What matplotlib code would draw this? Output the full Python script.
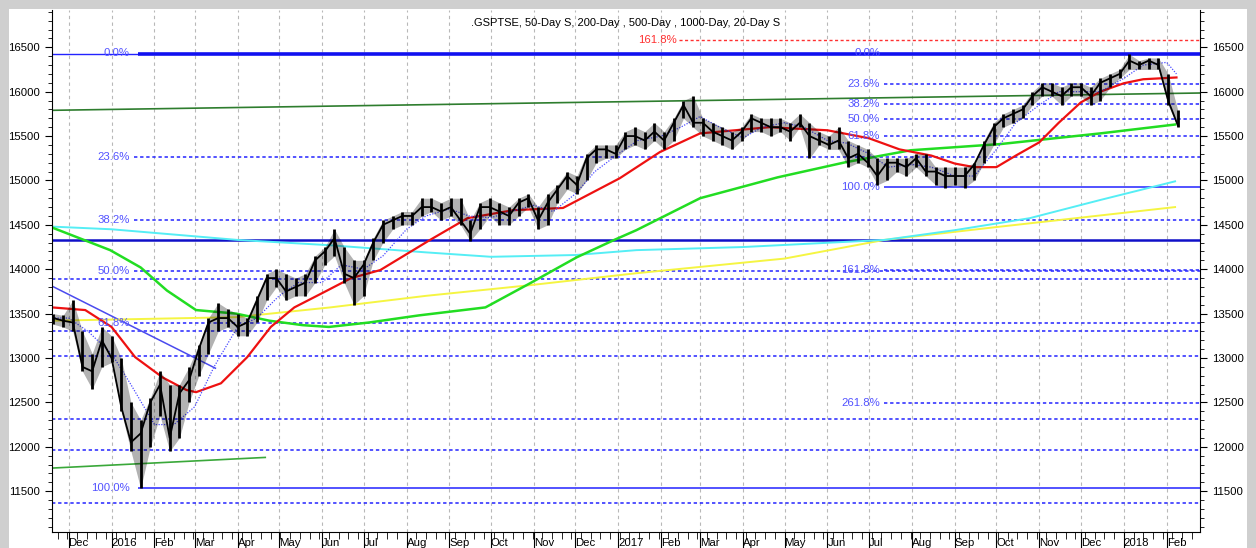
import numpy as np
import pandas as pd
import matplotlib
matplotlib.use("Agg")
import matplotlib.pyplot as plt
import matplotlib.dates as mdates
from matplotlib.patches import Rectangle

plt.rcParams['font.family'] = ['Liberation Sans', 'DejaVu Sans']

# weekly price bars (date, close, high, low)
wk_dates = pd.date_range("2015-11-20", "2018-02-09", freq="W-FRI")
wk_close = [13450, 13420, 13400, 12900, 12850, 13200, 13000, 12450, 12050, 12150,
            12500, 12700, 12100, 12600, 12750, 13100, 13400, 13450, 13450, 13350,
            13400, 13650, 13900, 13900, 13750, 13800, 13850, 14100, 14200, 14350,
            13950, 13900, 14050, 14300, 14500, 14550, 14600, 14600, 14700, 14700,
            14650, 14700, 14550, 14400, 14700, 14700, 14650, 14600, 14750, 14800,
            14550, 14750, 14900, 15050, 14950, 15250, 15350, 15350, 15300, 15500,
            15500, 15450, 15550, 15450, 15650, 15850, 15650, 15650, 15550, 15500,
            15450, 15550, 15700, 15650, 15600, 15600, 15550, 15650, 15500, 15450,
            15400, 15450, 15250, 15300, 15200, 15050, 15200, 15200, 15150, 15250,
            15100, 15100, 15050, 15050, 15050, 15180, 15400, 15600, 15700, 15750,
            15800, 15950, 16050, 16000, 15950, 16050, 16050, 15950, 16100, 16150,
            16200, 16350, 16300, 16350, 16300, 15900, 15620]
wk_high = [13500, 13480, 13650, 13300, 13050, 13350, 13250, 13000, 12500, 12300,
           12550, 12850, 12700, 12700, 12900, 13150, 13450, 13620, 13550, 13500,
           13450, 13700, 13950, 14000, 13950, 13900, 13950, 14150, 14250, 14450,
           14250, 14100, 14100, 14350, 14550, 14600, 14650, 14650, 14800, 14800,
           14750, 14800, 14800, 14550, 14750, 14800, 14750, 14700, 14800, 14850,
           14700, 14850, 14950, 15100, 15050, 15300, 15400, 15400, 15400, 15550,
           15600, 15550, 15650, 15550, 15700, 15900, 15950, 15700, 15650, 15600,
           15550, 15600, 15750, 15700, 15700, 15700, 15650, 15750, 15650, 15550,
           15500, 15600, 15450, 15400, 15350, 15250, 15250, 15250, 15250, 15300,
           15300, 15150, 15150, 15150, 15150, 15200, 15450, 15650, 15750, 15800,
           15850, 16000, 16100, 16100, 16050, 16100, 16100, 16050, 16150, 16200,
           16250, 16421, 16350, 16380, 16380, 16200, 15790]
wk_low = [13380, 13350, 13300, 12850, 12650, 12900, 12950, 12400, 11950, 11531,
          12000, 12350, 11950, 12100, 12500, 12800, 13050, 13300, 13350, 13250,
          13250, 13400, 13650, 13800, 13650, 13700, 13700, 13850, 14050, 14150,
          13850, 13600, 13700, 14100, 14300, 14450, 14500, 14500, 14600, 14650,
          14550, 14600, 14500, 14320, 14450, 14600, 14500, 14500, 14600, 14700,
          14450, 14500, 14750, 14900, 14850, 15000, 15200, 15250, 15250, 15350,
          15400, 15350, 15450, 15350, 15450, 15700, 15600, 15500, 15450, 15400,
          15350, 15450, 15550, 15550, 15500, 15550, 15450, 15600, 15250, 15400,
          15350, 15350, 15150, 15200, 15150, 14950, 15000, 15100, 15050, 15150,
          15050, 14950, 14920, 14950, 14920, 15000, 15200, 15400, 15600, 15650,
          15700, 15850, 15950, 15950, 15850, 15950, 15950, 15850, 15900, 16050,
          16150, 16250, 16250, 16250, 16250, 15850, 15600]

# moving averages
ma50_dates = ["2015-11-19", "2015-12-13", "2016-01-01", "2016-01-18", "2016-02-07",
              "2016-02-24", "2016-03-02", "2016-03-20", "2016-04-08", "2016-04-25",
              "2016-05-12", "2016-06-01", "2016-06-22", "2016-07-13", "2016-08-18",
              "2016-09-14", "2016-10-17", "2016-11-22", "2017-01-02", "2017-01-31",
              "2017-03-01", "2017-04-20", "2017-06-01", "2017-07-01", "2017-07-23",
              "2017-08-15", "2017-09-01", "2017-09-15", "2017-10-01", "2017-10-15",
              "2017-11-01", "2017-11-15", "2017-12-01", "2017-12-15", "2018-01-01",
              "2018-01-15", "2018-02-08"]
ma50_vals = [13570, 13540, 13350, 13010, 12780, 12640, 12615, 12715, 13010, 13350,
             13570, 13730, 13900, 13990, 14330, 14575, 14665, 14690, 15025, 15320,
             15530, 15600, 15565, 15475, 15350, 15280, 15190, 15150, 15150, 15280,
             15430, 15650, 15880, 16000, 16095, 16140, 16160]

ma200_dates = ["2015-11-19", "2015-12-31", "2016-01-22", "2016-02-10", "2016-03-02",
               "2016-03-31", "2016-04-24", "2016-05-18", "2016-06-06", "2016-07-05",
               "2016-08-10", "2016-09-27", "2016-10-29", "2016-12-02", "2016-12-29",
               "2017-01-14", "2017-03-01", "2017-04-26", "2017-06-14", "2017-07-31",
               "2017-10-04", "2017-12-15", "2018-02-07"]
ma200_vals = [14470, 14215, 14020, 13760, 13540, 13500, 13420, 13370, 13350, 13400,
              13480, 13570, 13840, 14135, 14330, 14440, 14800, 15035, 15205, 15340,
              15410, 15530, 15630]

ma500_dates = ["2015-11-19", "2016-01-01", "2016-04-01", "2016-06-07", "2016-08-15",
               "2016-10-01", "2016-12-01", "2017-01-14", "2017-04-01", "2017-07-12",
               "2017-09-01", "2017-10-25", "2017-12-15", "2018-02-07"]
ma500_vals = [14480, 14450, 14330, 14270, 14190, 14140, 14160, 14215, 14250, 14330,
              14440, 14575, 14780, 14990]

ma1000_dates = ["2015-11-19", "2016-03-31", "2016-06-07", "2016-08-15", "2016-10-29",
                "2017-01-14", "2017-05-01", "2017-07-12", "2017-10-01", "2018-02-07"]
ma1000_vals = [13420, 13460, 13570, 13700, 13820, 13955, 14120, 14330, 14475, 14700]

ma20_dates = ["2015-11-19", "2015-12-01", "2015-12-15", "2016-01-01", "2016-01-15",
              "2016-02-01", "2016-02-15", "2016-03-01", "2016-03-15", "2016-04-01",
              "2016-04-15", "2016-05-01", "2016-05-15", "2016-06-01", "2016-06-15",
              "2016-07-01", "2016-07-15", "2016-08-01", "2016-08-15", "2016-09-01",
              "2016-09-15", "2016-10-01", "2016-10-15", "2016-11-01", "2016-11-15",
              "2016-12-01", "2016-12-15", "2017-01-01", "2017-01-15", "2017-02-01",
              "2017-02-15", "2017-03-01", "2017-03-15", "2017-04-01", "2017-04-15",
              "2017-05-01", "2017-05-15", "2017-06-01", "2017-06-15", "2017-07-01",
              "2017-07-15", "2017-08-01", "2017-08-15", "2017-09-01", "2017-09-15",
              "2017-10-01", "2017-10-15", "2017-11-01", "2017-11-15", "2017-12-01",
              "2017-12-15", "2018-01-01", "2018-01-15", "2018-02-01", "2018-02-08"]
ma20_vals = [13450, 13450, 13300, 13050, 12700, 12250, 12250, 12450, 12900, 13350,
             13450, 13700, 13850, 13850, 14050, 14000, 14150, 14450, 14600, 14680,
             14600, 14580, 14650, 14720, 14650, 14850, 15100, 15300, 15450, 15500,
             15600, 15720, 15600, 15480, 15600, 15650, 15600, 15450, 15420, 15300,
             15150, 15180, 15150, 15050, 15050, 15350, 15650, 15850, 16000, 16000,
             16000, 16150, 16300, 16330, 16200]

# fibonacci / support levels
fib1_labels = ["23.6%", "38.2%", "50.0%", "61.8%"]
fib1_levels = [15267, 14553, 13985, 13399]
fib1_top, fib1_low = 16430, 11531
fib2_labels = ["23.6%", "38.2%", "50.0%", "61.8%", "161.8%", "261.8%"]
fib2_levels = [16090, 15860, 15690, 15505, 13992, 12491]
fib2_low = 14925
ext_level = 16580
other_levels = [13890, 13305, 13020, 12315, 11965, 11365]
support_level = 14330

d = mdates.datestr2num
x_left, x_right = d("2015-11-19"), d("2018-02-25")

fig = plt.figure(figsize=(12.56, 5.48), dpi=100, facecolor="#cfcfcf")
fig.patches.append(Rectangle((9 / 1256, 0), 1238 / 1256, 1 - 9 / 548,
                             transform=fig.transFigure, facecolor="white",
                             edgecolor="none", zorder=-5))
ax = fig.add_axes([52 / 1256, 16 / 548, 1148 / 1256, 1 - 16 / 548 - 10 / 548])
ax.set_zorder(2)
ax.set_facecolor("white")
ax.set_xlim(x_left, x_right)
ax.set_ylim(11040, 16920)

blue = "#2323ff"
lblue = "#5252ff"
dash = (0, (2.2, 1.8))

# horizontal levels
ax.hlines(fib1_levels, d("2016-01-17"), x_right, color=blue, lw=1.1, ls=dash)
ax.hlines(other_levels, x_left, x_right, color=blue, lw=1.1, ls=dash)
ax.hlines(fib2_levels[:4], d("2017-07-12"), x_right, color=blue, lw=1.1, ls=dash)
ax.hlines(fib2_levels[4:], d("2017-07-12"), x_right, color=blue, lw=1.1, ls=dash)
ax.hlines(ext_level, d("2017-02-14"), x_right, color="#ff3030", lw=1.0, ls=dash)
ax.hlines(fib1_top, x_left, d("2016-01-20"), color=blue, lw=1.0)
ax.hlines(fib1_top, d("2016-01-20"), x_right, color="#1010f0", lw=2.6)
ax.hlines(support_level, x_left, x_right, color="#1010c8", lw=1.8)
ax.hlines(fib1_low, d("2016-01-20"), x_right, color=blue, lw=1.1)
ax.hlines(fib2_low, d("2017-07-12"), x_right, color=blue, lw=1.1)

# trend lines
ax.plot([x_left, x_right], [15790, 15985], color="#2e7d2e", lw=1.2)
ax.plot([x_left, d("2016-04-21")], [11760, 11880], color="#3aa83a", lw=1.2)
ax.plot([x_left, d("2016-03-16")], [13810, 12885], color="#4a4aee", lw=1.1)

# moving averages
ax.plot(pd.to_datetime(ma1000_dates), ma1000_vals, color="#f5f542", lw=1.4)
ax.plot(pd.to_datetime(ma500_dates), ma500_vals, color="#55eef5", lw=1.4)
ax.plot(pd.to_datetime(ma200_dates), ma200_vals, color="#22dd22", lw=1.8)
ax.plot(pd.to_datetime(ma50_dates), ma50_vals, color="#ee1111", lw=1.6)
ax.plot(pd.to_datetime(ma20_dates), ma20_vals, color="#4a4aff", lw=0.9, ls=(0, (1, 1.2)))

# price bars
ax.fill_between(wk_dates, wk_low, wk_high, color="black", lw=0, alpha=0.3, zorder=4)
ax.vlines(wk_dates, wk_low, wk_high, color="black", lw=2.0, zorder=5)
ax.plot(wk_dates, wk_close, color="black", lw=1.3, zorder=5)

# level labels
fs = 8.2
for lab, lv in zip(fib1_labels, fib1_levels):
    ax.text(d("2016-01-14"), lv, lab, color=lblue, fontsize=fs, ha="right", va="center")
ax.text(d("2016-01-14"), fib1_top, "0.0%", color=lblue, fontsize=fs, ha="right", va="center")
ax.text(d("2016-01-14"), fib1_low, "100.0%", color=lblue, fontsize=fs, ha="right", va="center")
for lab, lv in zip(fib2_labels, fib2_levels):
    ax.text(d("2017-07-09"), lv, lab, color=lblue, fontsize=fs, ha="right", va="center")
ax.text(d("2017-07-09"), fib1_top, "0.0%", color=lblue, fontsize=fs, ha="right", va="center")
ax.text(d("2017-07-09"), fib2_low, "100.0%", color=lblue, fontsize=fs, ha="right", va="center")
ax.text(d("2017-02-12"), ext_level, "161.8%", color="#ff3030", fontsize=fs, ha="right", va="center")

ax.text(0.5, 0.985, ".GSPTSE, 50-Day S, 200-Day , 500-Day , 1000-Day, 20-Day S",
        transform=ax.transAxes, ha="center", va="top", fontsize=8)

# axes styling
ax.spines["top"].set_visible(False)
ax.yaxis.set_major_locator(plt.MultipleLocator(500))
ax.yaxis.set_minor_locator(plt.MultipleLocator(100))
ax.tick_params(axis="y", which="both", left=True, right=True, labelleft=True,
               labelright=True, labelsize=8.2, direction="out")
ax.tick_params(axis="y", which="major", length=5)
ax.tick_params(axis="y", which="minor", length=3)

ax.xaxis.set_major_locator(mdates.MonthLocator())
ax.xaxis.set_minor_locator(mdates.WeekdayLocator(byweekday=mdates.MO))
ax.xaxis.set_major_formatter(plt.FuncFormatter(
    lambda v, p: mdates.num2date(v).strftime("%Y") if mdates.num2date(v).month == 1
    else mdates.num2date(v).strftime("%b")))
ax.tick_params(axis="x", which="major", length=14, labelsize=8.2, pad=-10)
ax.tick_params(axis="x", which="minor", length=5)
for lbl in ax.get_xticklabels():
    lbl.set_horizontalalignment("left")
ax.grid(axis="x", which="major", color="#b8b8b8", ls=(0, (3, 3)), lw=0.8)

fig.savefig("out.png", dpi=100, facecolor=fig.get_facecolor())
